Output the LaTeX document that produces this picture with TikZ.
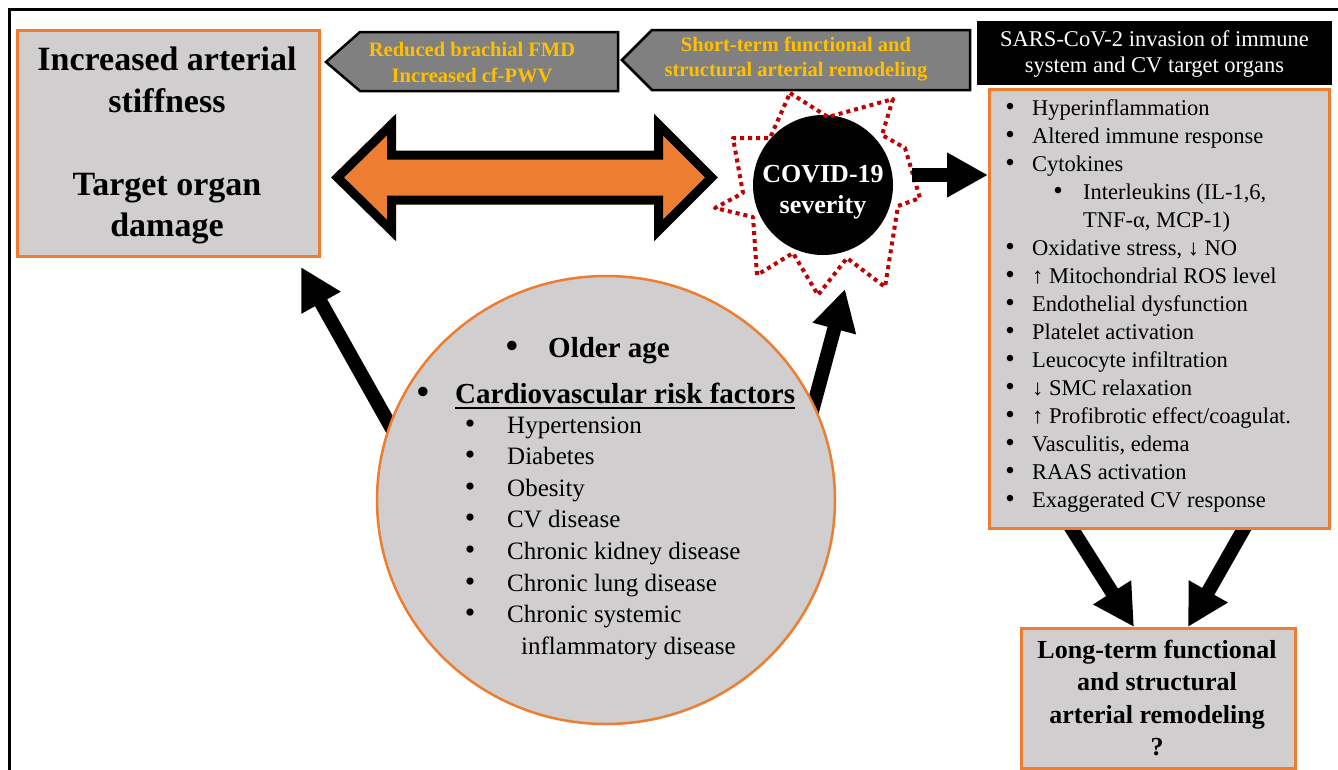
\documentclass[tikz,border=0pt]{standalone}
\usepackage{fontspec}
\setmainfont{Liberation Serif}
\usetikzlibrary{arrows.meta,shapes.geometric}
\definecolor{boxorange}{HTML}{ED7D31}
\definecolor{boxgray}{HTML}{D0CECE}
\definecolor{arrgray}{HTML}{808080}
\definecolor{goldtxt}{HTML}{FFC000}
\definecolor{starred}{HTML}{C00000}
\newcommand{\fsz}[2]{\fontsize{#1pt}{#2pt}\selectfont}
\begin{document}
\begin{tikzpicture}[x=1pt,y=-1pt,
  orbox/.style={draw=boxorange, fill=boxgray, line width=2.5pt, inner sep=0pt, anchor=north west},
  fat/.style={line width=14pt, -{Triangle[length=41pt,width=42pt]}},
  garrow/.style={draw=black, fill=arrgray, line width=2.5pt, line join=miter},
  gtext/.style={text=goldtxt, font=\fsz{20.5}{26}\bfseries, inner sep=0pt, anchor=base},
  txt/.style={inner sep=0pt, anchor=base west},
  ctxt/.style={inner sep=0pt, anchor=base},
  bul/.style={inner sep=0pt, anchor=base, scale=1.2},
]
\useasboundingbox (0,0) rectangle (1338,769);
\fill[white] (0,0) rectangle (1338,769);
% outer frame
\draw[line width=3pt] (9,780) -- (9,9) -- (1350,9);

% fat black arrows (tails hidden under shapes)
\coordinate (a1s) at (396,436); \coordinate (a1e) at (301,267);
\coordinate (a2s) at (807,430); \coordinate (a2e) at (845,289);
\coordinate (a3s) at (1065,518); \coordinate (a3e) at (1134,627);
\coordinate (a4s) at (1250,518); \coordinate (a4e) at (1188,627);
\draw[fat] (a1s) -- (a1e);
\draw[fat] (a2s) -- (a2e);
\draw[fat] (a3s) -- (a3e);
\draw[fat] (a4s) -- (a4e);

% big ellipse
\node[ellipse, draw=boxorange, fill=boxgray, line width=2.5pt, inner sep=0pt,
      minimum width=458pt, minimum height=448pt] (risk) at (606,500) {};

% boxes
\node[orbox, minimum width=302pt, minimum height=226pt] (lbox) at (16,29) {};
\node[orbox, minimum width=340pt, minimum height=439pt] (rbox) at (988,88) {};
\node[orbox, minimum width=274pt, minimum height=140pt] (bbox) at (1020,627) {};
\node[fill=black, inner sep=0pt, anchor=north west, minimum width=355pt, minimum height=64pt] (sars) at (977,21) {};

% grey pentagon arrows
\draw[garrow] (326,62) -- (360,32) -- (618,32) -- (618,91) -- (360,91) -- cycle;
\draw[garrow] (622,60) -- (652,30) -- (970,30) -- (970,90) -- (652,90) -- cycle;

% orange double arrow
\draw[fill=boxorange, draw=black, line width=9pt, line join=miter, miter limit=10]
  (337.5,177.5) -- (391.5,124.5) -- (391.5,155) -- (658.5,155) -- (658.5,124.5)
  -- (711.5,177.5) -- (658.5,230.5) -- (658.5,200) -- (391.5,200) -- (391.5,230.5) -- cycle;

% COVID circle and star
\node[circle, fill=black, inner sep=0pt, minimum size=140pt] (covid) at (823,185) {};
\draw[starred, line width=4pt, dash pattern=on 4pt off 4pt, line join=round]
  (790,93) -- (828,117) -- (893,99) -- (882,135) -- (905,148) -- (920,198)
  -- (898,206) -- (885,287) -- (847,258) -- (818,295) -- (793,253) -- (757,275)
  -- (753,217) -- (715,208) -- (743,193) -- (733,138) -- (770,138) -- cycle;
\coordinate (c2s) at (912,175);
\draw[fat] (c2s) -- (rbox.west |- c2s);

% ---- texts ----
% left box
\begin{scope}[every node/.append style={font=\fsz{34}{42}\bfseries}]
\node[ctxt] (l1) at (167,70) {Increased\ arterial};
\node[ctxt] (l2) at (167,112) {stiffness};
\node[ctxt] (l3) at (167,195) {Target organ};
\node[ctxt] (l4) at (167,236) {damage};
\end{scope}

% grey arrow texts
\node[gtext] (g1) at (472,56) {Reduced brachial FMD};
\node[gtext] (g2) at (472,82) {Increased cf-PWV};
\node[gtext] (g3) at (796,51) {Short-term functional and};
\node[gtext] (g4) at (796,76) {structural arterial remodeling};

% black box text
\begin{scope}[every node/.append style={font=\fsz{22.5}{27}, text=white}]
\node[ctxt] (s1) at (1154.5,46) {SARS-CoV-2\ invasion of immune};
\node[ctxt] (s2) at (1154.5,72) {system\ and CV target organs};
\end{scope}

% covid text
\begin{scope}[every node/.append style={font=\fsz{26}{31}\bfseries, text=white}]
\node[ctxt] (cv1) at (823,182) {COVID-19};
\node[ctxt] (cv2) at (823,213) {severity};
\end{scope}

% right list
\begin{scope}[every node/.append style={font=\fsz{22.5}{28}}]
\foreach \i in {0,1,2,5,6,7,8,9,10,11,12,13,14}
  \node[bul] (rb\i) at (1010,{115+28*\i}) {•};
\node[bul] (rb3) at (1058,199) {•};
\node[txt] (r0) at (1032,115) {Hyperinflammation};
\node[txt] (r1) at (1032,143) {Altered immune response};
\node[txt] (r2) at (1032,171) {Cytokines};
\node[txt] (r3) at (1083,199) {Interleukins\ (IL-1,6,};
\node[txt] (r4) at (1083,227) {TNF-α, MCP-1)};
\node[txt] (r5) at (1032,255) {Oxidative\ stress, ↓ NO};
\node[txt] (r6) at (1032,283) {↑ Mitochondrial\ ROS level};
\node[txt] (r7) at (1032,311) {Endothelial\ dysfunction};
\node[txt] (r8) at (1032,339) {Platelet activation};
\node[txt] (r9) at (1032,367) {Leucocyte\ infiltration};
\node[txt] (r10) at (1032,395) {↓ SMC relaxation};
\node[txt] (r11) at (1032,423) {↑ Profibrotic effect/coagulat.};
\node[txt] (r12) at (1032,451) {Vasculitis, edema};
\node[txt] (r13) at (1032,479) {RAAS\ activation};
\node[txt] (r14) at (1032,507) {Exaggerated\ CV response};
\end{scope}

% bottom box text
\begin{scope}[every node/.append style={font=\fsz{26}{32}\bfseries}]
\node[ctxt] (b1) at (1157,658) {Long-term functional};
\node[ctxt] (b2) at (1157,690.5) {and structural};
\node[ctxt] (b3) at (1157,723) {arterial remodeling};
\node[ctxt] (b4) at (1157,755.5) {?};
\end{scope}

% ellipse text
\begin{scope}[every node/.append style={font=\fsz{29}{34}\bfseries}]
\node[bul] (eb0) at (512,357) {•};
\node[txt] (e0) at (548,357) {Older age};
\node[bul] (eb1) at (423,403) {•};
\node[txt] (e1) at (455,403) {Cardiovascular risk factors};
\end{scope}
\draw[line width=2.5pt] ([yshift=-5pt]e1.base west) -- ([yshift=-5pt]e1.base east);
\begin{scope}[every node/.append style={font=\fsz{25}{31}}]
\foreach \i in {0,...,6}
  \node[bul] (sb\i) at (470,{433+31.6*\i}) {•};
\node[txt] (h0) at (507,433) {Hypertension};
\node[txt] (h1) at (507,464.6) {Diabetes};
\node[txt] (h2) at (507,496.2) {Obesity};
\node[txt] (h3) at (507,527.8) {CV disease};
\node[txt] (h4) at (507,559.4) {Chronic kidney\ disease};
\node[txt] (h5) at (507,591) {Chronic lung\ disease};
\node[txt] (h6) at (507,622.6) {Chronic systemic};
\node[txt] (h7) at (521,654.2) {inflammatory\ disease};
\end{scope}
\end{tikzpicture}
\end{document}
